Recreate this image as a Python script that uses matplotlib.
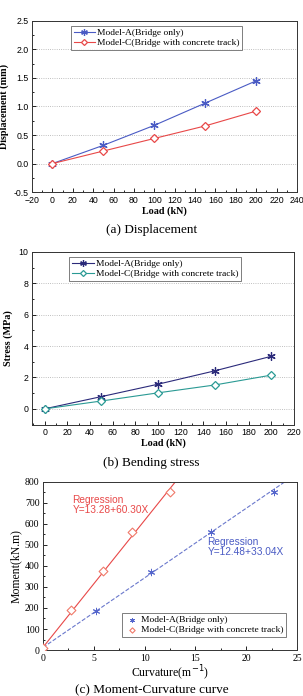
import matplotlib
matplotlib.use("Agg")
import matplotlib.pyplot as plt
import numpy as np
from matplotlib.ticker import MultipleLocator

# ---- data ----
load = [0, 50, 100, 150, 200]
disp_A = [0.0, 0.32, 0.67, 1.06, 1.45]
disp_C = [0.0, 0.22, 0.44, 0.66, 0.92]
stress_A = [0.0, 0.78, 1.57, 2.42, 3.35]
stress_C = [0.0, 0.50, 1.02, 1.52, 2.15]
curv_A = [0.0, 5.2, 10.6, 16.5, 22.7]
mom_A = [0, 185, 372, 562, 750]
curv_C = [0.0, 2.8, 5.9, 8.8, 12.5]
mom_C = [10, 188, 375, 562, 750]
reg_A = (12.48, 33.04)
reg_C = (13.28, 60.30)
label_A = "Model-A(Bridge only)"
label_C = "Model-C(Bridge with concrete track)"

serif = ["Liberation Serif", "DejaVu Serif"]
sans = ["Liberation Sans", "DejaVu Sans"]

fig = plt.figure(figsize=(3.03, 6.96), dpi=100)

def style_axes(ax, tickfont, size):
    ax.tick_params(which="both", direction="in", top=False, right=False, labelsize=size)
    ax.tick_params(which="major", length=3, width=0.6, pad=2.5)
    ax.tick_params(which="minor", length=1.5, width=0.6)
    for s in ax.spines.values():
        s.set_linewidth(0.7)
        s.set_color("#333333")
    for lab in ax.get_xticklabels() + ax.get_yticklabels():
        lab.set_family(tickfont)

def make_legend(ax, **kw):
    leg = ax.legend(prop={"family": serif, "size": 6.8}, frameon=True, fancybox=False,
                    edgecolor="#444444", borderpad=0.3, labelspacing=0.15,
                    handletextpad=0.2, **kw)
    leg.get_frame().set_linewidth(0.6)
    return leg

# ---- panel (a) ----
ax1 = fig.add_axes([0.106, 0.724, 0.874, 0.246])
ax1.plot(load, disp_A, color="#4a5bc4", lw=0.8, marker=(6, 2, 0), ms=6, mew=0.9, label=label_A)
ax1.plot(load, disp_C, color="#e84848", lw=0.8, marker="D", ms=3.8, mfc="white", mew=0.9, label=label_C)
ax1.set_xlim(-20, 240)
ax1.set_ylim(-0.5, 2.5)
ax1.xaxis.set_major_locator(MultipleLocator(20))
ax1.xaxis.set_minor_locator(MultipleLocator(10))
ax1.yaxis.set_major_locator(MultipleLocator(0.5))
ax1.yaxis.set_minor_locator(MultipleLocator(0.25))
ax1.yaxis.set_major_formatter(matplotlib.ticker.FormatStrFormatter("%.1f"))
ax1.grid(axis="y", which="major", ls=":", lw=0.6, color="#aaaaaa")
ax1.set_xlabel("Load (kN)", family=serif, fontsize=7.3, fontweight="bold", labelpad=1)
ax1.set_ylabel("Displacement (mm)", family=serif, fontsize=7.3, fontweight="bold", labelpad=3)
style_axes(ax1, sans, 6.3)
make_legend(ax1, loc="upper center", bbox_to_anchor=(0.47, 1.0), handlelength=2.3, markerscale=0.8)
fig.text(0.5, 1 - 230 / 696, "(a) Displacement", ha="center", va="center", family=serif, fontsize=9.5)

# ---- panel (b) ----
ax2 = fig.add_axes([0.106, 0.390, 0.864, 0.248])
ax2.plot(load, stress_A, color="#2b2a7a", lw=0.8, marker=(6, 2, 0), ms=6, mew=0.9, label=label_A)
ax2.plot(load, stress_C, color="#2a9a94", lw=0.8, marker="D", ms=3.8, mfc="white", mew=0.9, label=label_C)
ax2.set_xlim(-11, 220)
ax2.set_ylim(-1, 10)
ax2.xaxis.set_major_locator(MultipleLocator(20))
ax2.xaxis.set_minor_locator(MultipleLocator(10))
ax2.yaxis.set_major_locator(MultipleLocator(2))
ax2.yaxis.set_minor_locator(MultipleLocator(1))
ax2.grid(axis="y", which="major", ls=":", lw=0.6, color="#aaaaaa")
ax2.set_xlabel("Load (kN)", family=serif, fontsize=7.3, fontweight="bold", labelpad=1)
ax2.set_ylabel("Stress (MPa)", family=serif, fontsize=7.3, fontweight="bold", labelpad=4)
style_axes(ax2, sans, 6.3)
make_legend(ax2, loc="upper center", bbox_to_anchor=(0.47, 1.0), handlelength=2.3, markerscale=0.8)
fig.text(0.5, 1 - 463 / 696, "(b) Bending stress", ha="center", va="center", family=serif, fontsize=9.5)

# ---- panel (c) ----
ax3 = fig.add_axes([0.142, 0.066, 0.838, 0.242])
ax3.scatter(curv_A, mom_A, marker=(6, 2, 0), s=22, color="#5566cc", lw=0.7, label=label_A, zorder=3)
ax3.scatter(curv_C, mom_C, marker="D", s=20, facecolors="white", edgecolors="#f07a6a", lw=0.8,
            label=label_C, zorder=3)
xa = np.array([0, 25.0])
ax3.plot(xa, reg_A[0] + reg_A[1] * xa, ls="--", color="#6a78cc", lw=0.8)
xc = np.array([0, (800 - reg_C[0]) / reg_C[1]])
ax3.plot(xc, reg_C[0] + reg_C[1] * xc, ls="-", color="#e84848", lw=0.8)
ax3.set_xlim(0, 25)
ax3.set_ylim(0, 800)
ax3.xaxis.set_major_locator(MultipleLocator(5))
ax3.xaxis.set_minor_locator(MultipleLocator(2.5))
ax3.yaxis.set_major_locator(MultipleLocator(100))
ax3.yaxis.set_minor_locator(MultipleLocator(50))
ax3.set_xlabel("Curvature(m$^{-1}$)", family=serif, fontsize=8.5, labelpad=1)
ax3.set_ylabel("Moment(kN.m)", family=serif, fontsize=8.5, labelpad=2)
style_axes(ax3, serif, 7)
ax3.text(2.9, 735, "Regression\nY=%.2f+%.2fX" % reg_C, color="#e84848", family=sans, fontsize=7.3,
         va="top", ha="left", linespacing=1.0)
ax3.text(16.2, 535, "Regression\nY=%.2f+%.2fX" % reg_A, color="#4a5bc4", family=sans, fontsize=7.3,
         va="top", ha="left", linespacing=1.0)
make_legend(ax3, loc="lower right", bbox_to_anchor=(0.975, 0.05), handlelength=1.5, markerscale=0.6)
fig.text(0.5, 1 - 690 / 696, "(c) Moment-Curvature curve", ha="center", va="center", family=serif, fontsize=9.5)

fig.savefig("out.png", dpi=100)
